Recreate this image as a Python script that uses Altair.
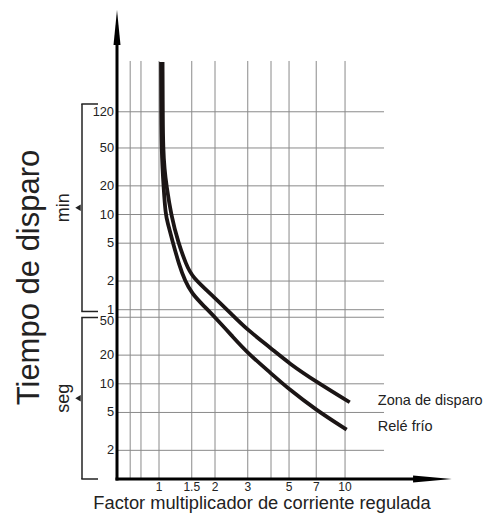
import altair as alt
import pandas as pd

# ---------------- data ----------------
x_grid = [0.7, 0.8, 1, 1.5, 2, 3, 4, 5, 7, 10]
x_ticks = [1, 1.5, 2, 3, 5, 7, 10]
x_tick_labels = ["1", "1.5", "2", "3", "5", "7", "10"]

min_ticks = [120, 50, 20, 10, 5, 2, 1]      # minutes
sec_ticks = [50, 20, 10, 5, 2]              # seconds

# curves: x = multiple of set current, t = trip time in seconds
zona_x = [1.045, 1.048, 1.053, 1.07, 1.097, 1.16, 1.27, 1.4, 1.5, 2, 2.5, 3, 4, 5, 7, 10.6]
zona_t = [24000, 6000, 3000, 1800, 1200, 600, 300, 180, 133, 80, 52, 36.7, 23.6, 16.4, 10.5, 6.4]
frio_x = [1.025, 1.028, 1.033, 1.045, 1.057, 1.085, 1.11, 1.19, 1.28, 1.38, 1.5, 1.75, 2, 2.5, 3, 4, 5, 7, 10.2]
frio_t = [24000, 6000, 3000, 1800, 1200, 600, 500, 300, 180, 120, 89, 65, 50, 31, 21, 12.9, 8.75, 5.3, 3.3]

series_names = ["Zona de disparo", "Relé frío"]
label_x = 15.0
label_t = [6.65, 3.54]

# bracket ranges on the time axis (seconds)
bracket_names = ["min", "seg"]
bracket_top = [8690, 49.7]
bracket_bot = [57.5, 1]

# ---------------- scales / layout ----------------
XMIN, XMAX = 0.5946, 39.0
YMIN, YMAX = 1, 84400
GRID_TOP = 24600
GRID_RIGHT = 16.2
Y_ARROW_BASE, Y_ARROW_MID = 36200, 55300
X_ARROW_BASE, X_ARROW_MID = 23.2, 29.5

W, H = 338, 469
FONT = "Liberation Sans"
GRID = "#8a8a8a"
INK = "#1b1515"

xs = alt.Scale(type="log", domain=[XMIN, XMAX], nice=False)
ys = alt.Scale(type="log", domain=[YMIN, YMAX], nice=False)


def xd(v):
    return alt.XDatum(v, type="quantitative", scale=xs, axis=None)


def yd(v):
    return alt.YDatum(v, type="quantitative", scale=ys, axis=None)


one = pd.DataFrame({"a": [0]})

# grid
df_xg = pd.DataFrame({"x": x_grid})
vgrid = alt.Chart(df_xg).mark_rule(color=GRID, strokeWidth=1).encode(
    x=alt.X("x:Q", scale=xs, axis=None), y=yd(1), y2=alt.Y2Datum(GRID_TOP)
)
df_yg = pd.DataFrame({"t": [m * 60 for m in min_ticks] + sec_ticks})
hgrid = alt.Chart(df_yg).mark_rule(color=GRID, strokeWidth=1).encode(
    y=alt.Y("t:Q", scale=ys, axis=None), x=xd(XMIN), x2=alt.X2Datum(GRID_RIGHT)
)

# curves
rows = []
for xv, tv in zip(zona_x, zona_t):
    rows.append({"serie": series_names[0], "x": xv, "t": tv})
for xv, tv in zip(frio_x, frio_t):
    rows.append({"serie": series_names[1], "x": xv, "t": tv})
df_c = pd.DataFrame(rows)
curves = alt.Chart(df_c).mark_line(
    color=INK, strokeWidth=3.8, interpolate="basis"
).encode(
    x=alt.X("x:Q", scale=xs, axis=None),
    y=alt.Y("t:Q", scale=ys, axis=None),
    detail="serie:N",
)

# axes with arrows
yaxis = alt.Chart(one).mark_rule(color="black", strokeWidth=3, strokeCap="square").encode(
    x=xd(XMIN), y=yd(1), y2=alt.Y2Datum(Y_ARROW_BASE)
)
xaxis = alt.Chart(one).mark_rule(color="black", strokeWidth=3, strokeCap="square").encode(
    y=yd(1), x=xd(XMIN), x2=alt.X2Datum(X_ARROW_BASE)
)
yarrow = alt.Chart(one).mark_point(
    shape="M0,-1L0.2,1L-0.2,1Z", filled=True, size=1225, color="black",
    opacity=1, strokeWidth=0
).encode(x=xd(XMIN), y=yd(Y_ARROW_MID))
xarrow = alt.Chart(one).mark_point(
    shape="M1,0L-1,-0.18L-1,0.18Z", filled=True, size=1498, color="black",
    opacity=1, strokeWidth=0
).encode(x=xd(X_ARROW_MID), y=yd(1))

# tick labels
df_xt = pd.DataFrame({"x": x_ticks, "lab": x_tick_labels})
xlabels = alt.Chart(df_xt).mark_text(
    font=FONT, fontSize=12, baseline="middle", align="center", dy=7.5, color="#222"
).encode(x=alt.X("x:Q", scale=xs, axis=None), y=yd(1), text="lab:N")

df_yt = pd.DataFrame({
    "t": [m * 60 for m in min_ticks] + sec_ticks,
    "lab": [str(m) for m in min_ticks] + [str(s) for s in sec_ticks],
    "shift": [0] * len(min_ticks) + [1] + [0] * (len(sec_ticks) - 1),
})
ylabels = alt.Chart(df_yt).transform_filter("datum.shift == 0").mark_text(
    font=FONT, fontSize=12.8, baseline="middle", align="right", dx=-3, color="#222"
).encode(x=xd(XMIN), y=alt.Y("t:Q", scale=ys, axis=None), text="lab:N")
ylabels2 = alt.Chart(df_yt).transform_filter("datum.shift == 1").mark_text(
    font=FONT, fontSize=12.8, baseline="middle", align="right", dx=-3, dy=4, color="#222"
).encode(x=xd(XMIN), y=alt.Y("t:Q", scale=ys, axis=None), text="lab:N")

# brackets
df_b = pd.DataFrame({"name": bracket_names, "top": bracket_top, "bot": bracket_bot})
df_b["mid"] = (df_b["top"] * df_b["bot"]) ** 0.5
bvert = alt.Chart(df_b).mark_rule(color="#222", strokeWidth=1.5).encode(
    x=alt.value(-35), y=alt.Y("top:Q", scale=ys, axis=None), y2="bot:Q"
)
btop = alt.Chart(df_b).mark_rule(color="#222", strokeWidth=1.5).encode(
    x=alt.value(-35.7), x2=alt.value(-19), y=alt.Y("top:Q", scale=ys, axis=None)
)
bbot = alt.Chart(df_b).mark_rule(color="#222", strokeWidth=1.5).encode(
    x=alt.value(-35.7), x2=alt.value(-19), y=alt.Y("bot:Q", scale=ys, axis=None)
)
btri = alt.Chart(df_b).mark_point(
    shape="triangle-left", filled=True, size=40, color="#222", opacity=1, strokeWidth=0
).encode(x=alt.value(-39), y=alt.Y("mid:Q", scale=ys, axis=None))
blab = alt.Chart(df_b).mark_text(
    font=FONT, fontSize=18, angle=270, align="center", baseline="alphabetic", color="#222"
).encode(x=alt.value(-48), y=alt.Y("mid:Q", scale=ys, axis=None), text="name:N")

# titles
ytitle = alt.Chart(one).mark_text(
    text="Tiempo de disparo", font=FONT, fontSize=31, angle=270, align="center",
    baseline="alphabetic", color="#222"
).encode(x=alt.value(-78.5), y=alt.value(267.5))
xtitle = alt.Chart(one).mark_text(
    text="Factor multiplicador de corriente regulada", font=FONT, fontSize=18.3,
    align="center", baseline="alphabetic", color="#222"
).encode(x=alt.value(145), y=alt.value(498.5))

# series labels
df_l = pd.DataFrame({"serie": series_names, "t": label_t, "x": [label_x, label_x]})
slabels = alt.Chart(df_l).mark_text(
    font=FONT, fontSize=14.5, align="left", baseline="middle", color="#222"
).encode(x=alt.X("x:Q", scale=xs, axis=None), y=alt.Y("t:Q", scale=ys, axis=None), text="serie:N")

chart = alt.layer(
    vgrid, hgrid, curves, xaxis, yaxis, yarrow, xarrow, xlabels, ylabels, ylabels2,
    bvert, btop, bbot, btri, blab, ytitle, xtitle, slabels
).properties(
    width=W, height=H,
    autosize=alt.AutoSizeParams(type="none"),
    padding={"left": 109, "top": 2, "right": 34, "bottom": 35},
    background="white",
).configure_view(stroke=None)

chart.save("out.html", embed_options={"renderer": "svg", "actions": False})
